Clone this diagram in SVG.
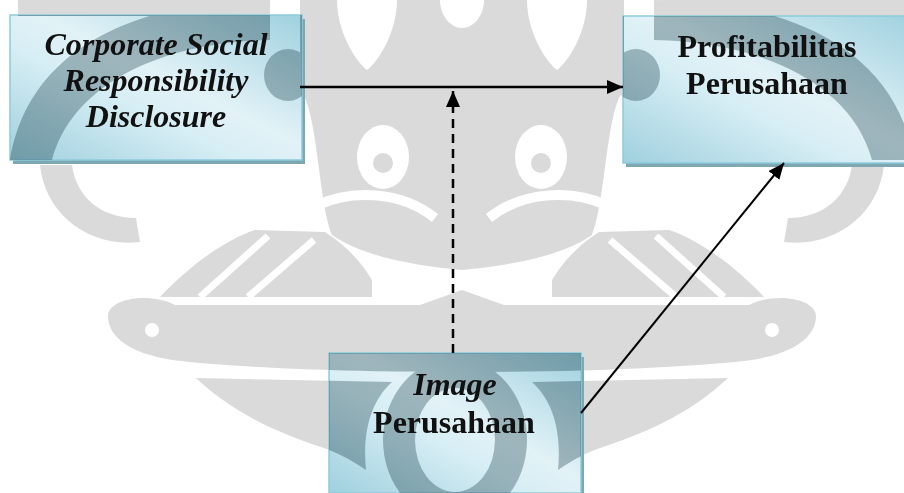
<svg xmlns="http://www.w3.org/2000/svg" xmlns:xlink="http://www.w3.org/1999/xlink" width="904" height="493" viewBox="0 0 904 493">
  <style>
    .box { stroke: #8ccbdc; stroke-width: 1.5; }
    .shadow { fill: #7fa7b2; }
    .lbl { font-family: "Liberation Serif", "Times New Roman", serif; font-size: 32px; font-weight: bold; fill: #111; text-anchor: middle; }
    .it { font-style: italic; }
    .conn { stroke: #000; fill: none; }
    .cut { fill: #fff; }
    .cutl { fill: none; stroke: #fff; }
  </style>
  <defs>
    <linearGradient id="bg" x1="1" y1="0" x2="0" y2="1">
      <stop offset="0" stop-color="#9fd1df"/>
      <stop offset="0.45" stop-color="#e2f2f7"/>
      <stop offset="0.6" stop-color="#d7eef5"/>
      <stop offset="1" stop-color="#9fd0de"/>
    </linearGradient>
    <marker id="ah" viewBox="0 0 16 14" refX="16" refY="7" markerWidth="16" markerHeight="14" markerUnits="userSpaceOnUse" orient="auto">
      <path d="M0,0 L16,7 L0,14 Z" fill="#000"/>
    </marker>
    <g id="wmhalf">
      <path d="M462 0 H300 V90 C318 110 318 200 332 235 C365 258 420 266 462 270 Z"/>
      <path d="M18 0 H262 V16 H18 Z"/>
      <path d="M270 0 C150 0 30 40 10 160 L52 160 C72 85 160 42 270 40 Z"/>
      <path d="M264 75 A24 26 0 1 0 312 75 A24 26 0 1 0 264 75 Z"/>
      <path d="M40 165 C45 215 90 248 140 242 L136 218 C100 218 76 196 72 165 Z"/>
      <path d="M160 297 C190 265 225 240 255 230 L325 232 C345 245 360 260 372 280 L372 297 Z"/>
      <path d="M108 318 C106 298 150 292 175 305 L420 305 L462 290 L462 372 C350 372 250 368 190 362 C140 358 110 342 108 318 Z"/>
      <path d="M196 378 L392 382 C372 400 362 430 366 470 C352 460 336 452 321 447 C270 430 230 410 196 378 Z"/>
      <path class="cut" d="M337 0 H397 C397 30 380 60 367 70 C354 60 337 30 337 0 Z"/>
      <path class="cut" d="M440 0 H462 V28 C450 28 440 15 440 0 Z"/>
      <ellipse class="cut" cx="383" cy="157" rx="26" ry="32"/>
      <circle cx="383" cy="163" r="10"/>
      <path class="cutl" stroke-width="10" d="M318 205 C350 190 400 190 435 218"/>
      <path class="cutl" stroke-width="7" d="M200 297 L268 236 M248 297 L314 240"/>
      <circle class="cut" cx="152" cy="330" r="7"/>
    </g>
    <g id="wm">
      <use xlink:href="#wmhalf"/>
      <use xlink:href="#wmhalf" transform="matrix(-1 0 0 1 924 0)"/>
      <path fill-rule="evenodd" d="M383 440 A72 82 0 1 0 527 440 A72 82 0 1 0 383 440 Z M415 440 A40 52 0 1 1 495 440 A40 52 0 1 1 415 440 Z"/>
    </g>
    <clipPath id="boxclip">
      <rect x="10" y="15" width="292" height="145"/>
      <rect x="623" y="16" width="290" height="147"/>
      <rect x="329" y="353" width="252" height="140"/>
    </clipPath>
  </defs>

  <rect width="904" height="493" fill="#fff"/>
  <g id="watermark" fill="#dadada">
    <use xlink:href="#wm"/>
  </g>

  <g id="node-csr">
    <rect class="shadow" x="13" y="19" width="292" height="145"/>
    <rect class="box" x="10" y="15" width="292" height="145" fill="url(#bg)"/>
  </g>
  <g id="node-profit">
    <rect class="shadow" x="626" y="20" width="290" height="147"/>
    <rect class="box" x="623" y="16" width="290" height="147" fill="url(#bg)"/>
  </g>
  <g id="node-image">
    <rect class="shadow" x="332" y="357" width="252" height="140"/>
    <rect class="box" x="329" y="353" width="252" height="140" fill="url(#bg)"/>
  </g>

  <g clip-path="url(#boxclip)" style="mix-blend-mode:multiply" fill="#b3bfc2">
    <use xlink:href="#wm"/>
  </g>

  <g id="labels">
    <text class="lbl it" x="156" y="55">Corporate Social</text>
    <text class="lbl it" x="156" y="91">Responsibility</text>
    <text class="lbl it" x="156" y="127">Disclosure</text>
    <text class="lbl" x="767" y="57">Profitabilitas</text>
    <text class="lbl" x="767" y="94">Perusahaan</text>
    <text class="lbl it" x="455" y="395">Image</text>
    <text class="lbl" x="454" y="433">Perusahaan</text>
  </g>

  <g id="connectors">
    <line class="conn" x1="300" y1="87" x2="623" y2="87" stroke-width="2.5" marker-end="url(#ah)"/>
    <line class="conn" x1="453" y1="353" x2="453" y2="91" stroke-width="2.5" stroke-dasharray="9 6" marker-end="url(#ah)"/>
    <line class="conn" x1="581" y1="413" x2="784" y2="163" stroke-width="2" marker-end="url(#ah)"/>
  </g>
</svg>
